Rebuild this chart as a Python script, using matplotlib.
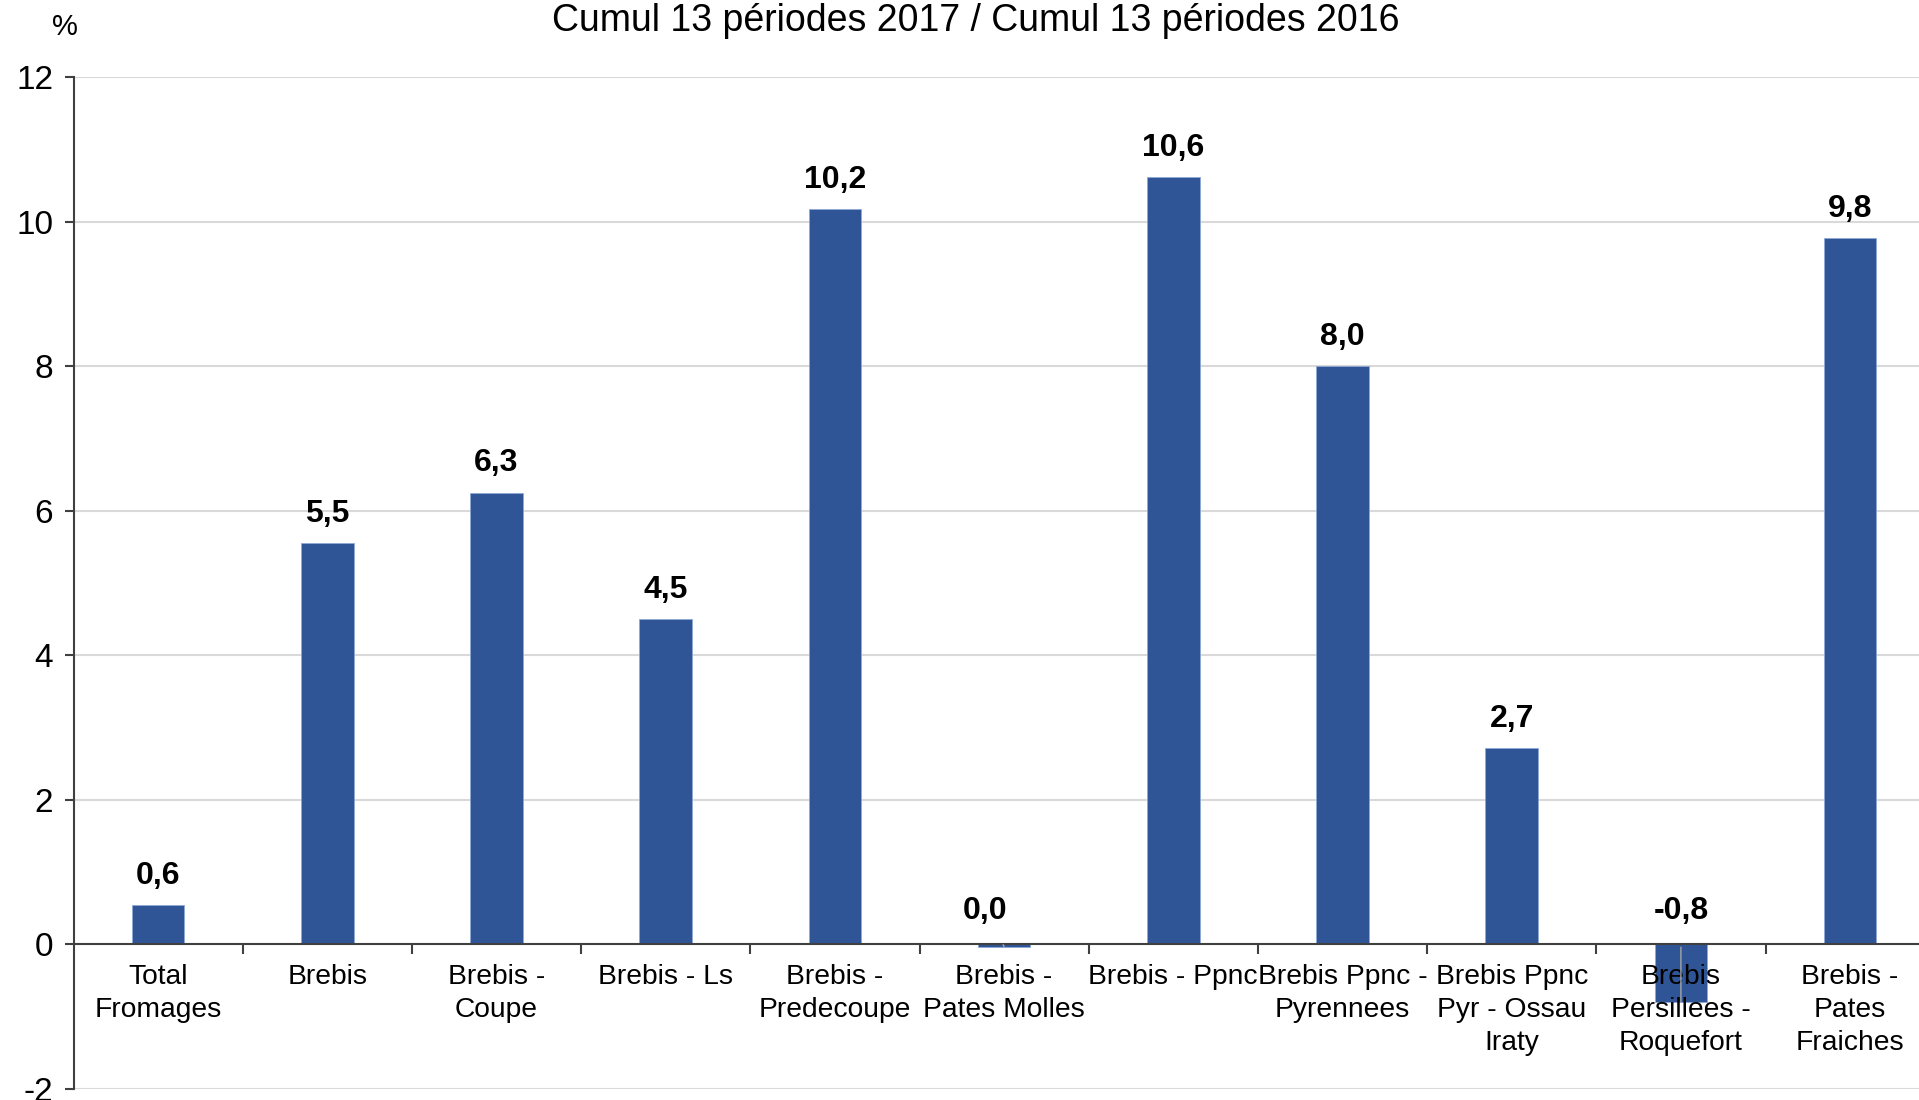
import matplotlib.pyplot as plt
import numpy as np

plt.rcParams['font.family'] = ['Liberation Sans', 'DejaVu Sans']

# data
categories = ['Total\nFromages', 'Brebis', 'Brebis -\nCoupe', 'Brebis - Ls',
              'Brebis -\nPredecoupe', 'Brebis -\nPates Molles', 'Brebis - Ppnc',
              'Brebis Ppnc -\nPyrennees', 'Brebis Ppnc\nPyr - Ossau\nIraty',
              'Brebis\nPersillees -\nRoquefort', 'Brebis -\nPates\nFraiches']
values = [0.55, 5.55, 6.25, 4.5, 10.17, -0.03, 10.62, 8.0, 2.72, -0.79, 9.77]
labels = ['0,6', '5,5', '6,3', '4,5', '10,2', '0,0', '10,6', '8,0', '2,7', '-0,8', '9,8']
yticks = [-2, 0, 2, 4, 6, 8, 10, 12]

W, H = 1919, 1100
fig = plt.figure(figsize=(W / 100, H / 100), dpi=100)
# axis runs slightly past the right edge like the original
ax = fig.add_axes([73.5 / W, 11 / H, 11 * 169.2 / W, (1089 - 77) / H])
ax.set_axisbelow(False)

x = np.arange(len(categories))
bar_color = '#2F5597'
# gridlines drawn by hand so the category labels can sit above the bars
for t in yticks:
    if t != 0:
        ax.axhline(t, color='#d9d9d9', linewidth=1.5, zorder=0.5)
ax.bar(x, values, width=0.31, color=bar_color, edgecolor='#8FA9D6', linewidth=0.6, zorder=1)

ax.set_xlim(-0.5, len(categories) - 0.5)
ax.set_ylim(-2, 12)
ax.set_yticks(yticks)
ax.set_yticklabels([str(t) for t in yticks], fontsize=24)

# spines: left axis, category axis sits on zero
for s in ['top', 'right']:
    ax.spines[s].set_visible(False)
ax.spines['bottom'].set_position(('data', 0))
ax.spines['bottom'].set_color('#404040')
ax.spines['bottom'].set_linewidth(1.5)
ax.spines['left'].set_color('#404040')
ax.spines['left'].set_linewidth(1.5)

ax.set_xticks(x)
ax.set_xticklabels(categories, fontsize=20.3, linespacing=1.35, va='top')
ax.tick_params(axis='x', which='major', length=0, pad=14)
ax.set_xticks(np.arange(0.5, len(categories) - 0.5), minor=True)
ax.tick_params(axis='x', which='minor', length=7, width=1.5, color='#404040', direction='out')
ax.tick_params(axis='y', length=6.5, width=1.5, color='#404040', pad=8)

# value labels
for xi, v, lab in zip(x, values, labels):
    if v > 0.2:
        ax.annotate(lab, (xi, v), xytext=(0, 21), textcoords='offset points',
                    ha='center', va='center', fontsize=23, fontweight='bold', zorder=5)
    else:
        dx = -14 if abs(v) < 0.1 else 0
        ax.annotate(lab, (xi, v), xytext=(dx, 24 + (-v * 72 / 1.389 if v < 0 else 0)),
                    textcoords='offset points', ha='center', va='center',
                    fontsize=23, fontweight='bold', zorder=5,
                    arrowprops=dict(arrowstyle='-', color='#a6a6a6', lw=1,
                                    shrinkA=13, shrinkB=0))

fig.text(976 / W, 1 - 21 / H, 'Cumul 13 périodes 2017 / Cumul 13 périodes 2016',
         ha='center', va='center', fontsize=27)
fig.text(65 / W, 1 - 27 / H, '%', ha='center', va='center', fontsize=21)

fig.savefig('out.png', dpi=100)
